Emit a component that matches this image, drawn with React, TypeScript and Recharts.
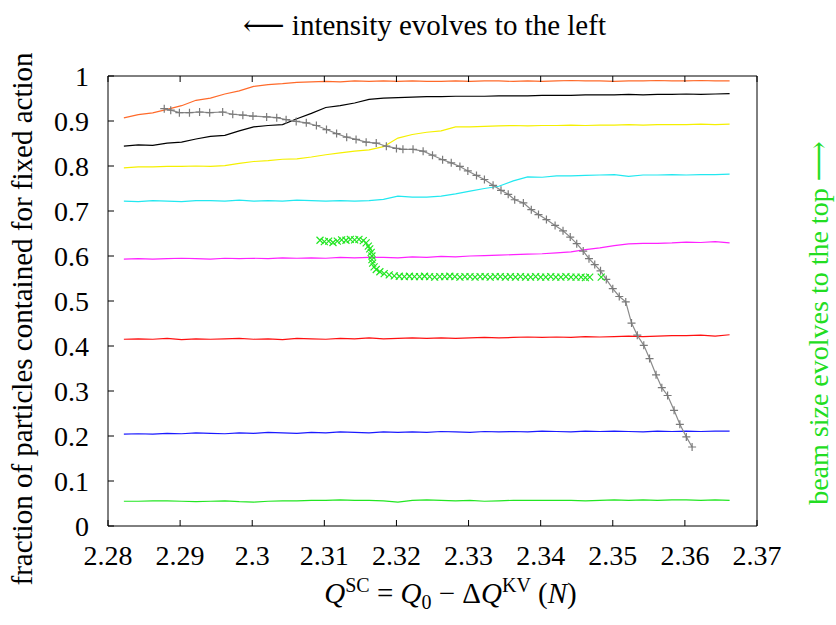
import { Line, LineChart, XAxis, YAxis } from 'recharts';

// Q values shared by the eight thin curves
const lineQ = [
    2.2822, 2.2842, 2.2862, 2.2882, 2.2902, 2.2922, 2.2942, 2.2962, 2.2982, 2.3002,
    2.3022, 2.3042, 2.3062, 2.3082, 2.3102, 2.3122, 2.3142, 2.3162, 2.3182, 2.3202,
    2.3222, 2.3242, 2.3262, 2.3282, 2.3302, 2.3322, 2.3342, 2.3362, 2.3382, 2.3402,
    2.3422, 2.3442, 2.3462, 2.3482, 2.3502, 2.3522, 2.3542, 2.3562, 2.3582, 2.3602,
    2.3622, 2.3642, 2.3662,
];

const orangeFrac = [
    0.907, 0.914, 0.918, 0.926, 0.934, 0.946, 0.951, 0.96, 0.967, 0.977,
    0.981, 0.983, 0.986, 0.987, 0.988, 0.987, 0.989, 0.988, 0.989, 0.988,
    0.989, 0.988, 0.988, 0.989, 0.988, 0.989, 0.989, 0.988, 0.989, 0.988,
    0.989, 0.99, 0.989, 0.989, 0.988, 0.989, 0.989, 0.99, 0.989, 0.989,
    0.99, 0.989, 0.989,
];
const blackFrac = [
    0.844, 0.847, 0.846, 0.851, 0.853, 0.86, 0.866, 0.868, 0.878, 0.887,
    0.89, 0.892, 0.905, 0.917, 0.93, 0.934, 0.94, 0.948, 0.951, 0.952,
    0.953, 0.954, 0.954, 0.955, 0.955, 0.955, 0.956, 0.956, 0.956, 0.957,
    0.957, 0.957, 0.958, 0.958, 0.958, 0.959, 0.958, 0.959, 0.959, 0.96,
    0.959, 0.96, 0.961,
];
const yellowFrac = [
    0.796, 0.798, 0.798, 0.799, 0.799, 0.8, 0.799, 0.801, 0.806, 0.81,
    0.812, 0.815, 0.816, 0.82, 0.825, 0.829, 0.833, 0.836, 0.843, 0.862,
    0.87, 0.875, 0.878, 0.887, 0.887, 0.888, 0.889, 0.89, 0.889, 0.89,
    0.89, 0.891, 0.89, 0.891, 0.891, 0.892, 0.891, 0.892, 0.892, 0.892,
    0.893, 0.892, 0.893,
];
const cyanFrac = [
    0.722, 0.721, 0.723, 0.722, 0.721, 0.723, 0.723, 0.722, 0.724, 0.722,
    0.723, 0.722, 0.724, 0.723, 0.722, 0.723, 0.722, 0.723, 0.726, 0.733,
    0.731, 0.731, 0.733, 0.738, 0.744, 0.75, 0.755, 0.767, 0.776, 0.775,
    0.778, 0.778, 0.779, 0.78, 0.781, 0.777, 0.78, 0.78, 0.781, 0.78,
    0.781, 0.781, 0.782,
];
const magentaFrac = [
    0.593, 0.594, 0.593, 0.594, 0.595, 0.594, 0.593, 0.595, 0.594, 0.595,
    0.594, 0.596, 0.595, 0.596, 0.595, 0.597, 0.596, 0.597, 0.597, 0.596,
    0.598, 0.597, 0.599, 0.598, 0.6, 0.601, 0.602, 0.603, 0.604, 0.605,
    0.607, 0.609, 0.614, 0.618, 0.623, 0.627, 0.628, 0.628, 0.629, 0.631,
    0.63, 0.632, 0.629,
];
const redFrac = [
    0.415, 0.416, 0.415, 0.417, 0.414, 0.416, 0.415, 0.416, 0.417, 0.415,
    0.416, 0.414, 0.417, 0.416, 0.415, 0.417, 0.416, 0.418, 0.416, 0.417,
    0.418, 0.417, 0.418, 0.417, 0.418, 0.419, 0.418, 0.419, 0.42, 0.419,
    0.42, 0.419, 0.421, 0.42, 0.421, 0.422, 0.421, 0.422, 0.423, 0.423,
    0.424, 0.422, 0.425,
];
const blueFrac = [
    0.204, 0.205, 0.204, 0.206, 0.205, 0.207, 0.206, 0.205, 0.207, 0.206,
    0.208, 0.207, 0.206, 0.208, 0.207, 0.209, 0.208, 0.207, 0.209, 0.208,
    0.209, 0.208, 0.21, 0.209, 0.208, 0.21, 0.209, 0.21, 0.209, 0.211,
    0.21, 0.209, 0.211, 0.21, 0.211, 0.21, 0.209, 0.211, 0.21, 0.211,
    0.21, 0.211, 0.211,
];
const greenFrac = [
    0.055, 0.055, 0.056, 0.056, 0.055, 0.054, 0.055, 0.056, 0.054, 0.053,
    0.055, 0.056, 0.056, 0.057, 0.057, 0.058, 0.057, 0.057, 0.056, 0.053,
    0.057, 0.058, 0.057, 0.056, 0.057, 0.055, 0.056, 0.057, 0.057, 0.057,
    0.057, 0.057, 0.056, 0.057, 0.058, 0.057, 0.058, 0.057, 0.058, 0.058,
    0.057, 0.058, 0.057,
];

// gray "+" curve
const grayQ = [
    2.2878, 2.2887, 2.2899, 2.2913, 2.2927, 2.2941, 2.2959, 2.2973, 2.2987, 2.3001,
    2.302, 2.3034, 2.3047, 2.3061, 2.3075, 2.3089, 2.3103, 2.3117, 2.3131, 2.3144,
    2.3158, 2.3172, 2.3186, 2.32, 2.3209, 2.3223, 2.3237, 2.325, 2.3264, 2.3276,
    2.3288, 2.3299, 2.3311, 2.3322, 2.3334, 2.3345, 2.3355, 2.3364, 2.3376, 2.3387,
    2.3397, 2.3408, 2.342, 2.3431, 2.3441, 2.345, 2.3459, 2.3467, 2.3475, 2.3483,
    2.3491, 2.35, 2.3509, 2.3518, 2.3526, 2.3534, 2.3543, 2.3551, 2.356, 2.3568,
    2.3576, 2.3585, 2.3593, 2.3602, 2.361,
];
const grayFrac = [
    0.9275, 0.924, 0.9185, 0.9185, 0.92, 0.9185, 0.92, 0.915, 0.913, 0.911,
    0.909, 0.9075, 0.903, 0.899, 0.896, 0.89, 0.881, 0.872, 0.864, 0.859,
    0.853, 0.851, 0.844, 0.839, 0.837, 0.837, 0.833, 0.824, 0.814, 0.807,
    0.799, 0.789, 0.779, 0.77, 0.757, 0.746, 0.737, 0.725, 0.718, 0.703,
    0.692, 0.681, 0.668, 0.656, 0.642, 0.6275, 0.611, 0.594, 0.581, 0.567,
    0.548, 0.5275, 0.51, 0.498, 0.451, 0.424, 0.4015, 0.372, 0.336, 0.3075,
    0.29, 0.257, 0.226, 0.198, 0.1756,
];

// green "x" points
const crossQ = [
    2.3094, 2.31, 2.3106, 2.3112, 2.3118, 2.3124, 2.313, 2.3136, 2.3142, 2.3148,
    2.3154, 2.3158, 2.3161, 2.3163, 2.3165, 2.3166, 2.3166, 2.3167, 2.3169, 2.3172,
    2.3177, 2.3183, 2.319, 2.3197, 2.3204, 2.3211, 2.3218, 2.3225, 2.3232, 2.3239,
    2.3246, 2.3253, 2.326, 2.3267, 2.3274, 2.3281, 2.3288, 2.3295, 2.3302, 2.3309,
    2.3316, 2.3323, 2.333, 2.3337, 2.3344, 2.3351, 2.3358, 2.3365, 2.3372, 2.3379,
    2.3386, 2.3393, 2.34, 2.3407, 2.3414, 2.3421, 2.3428, 2.3435, 2.3442, 2.3449,
    2.3456, 2.3462, 2.3468, 2.3484,
];
const crossFrac = [
    0.635, 0.632, 0.633, 0.63, 0.633, 0.636, 0.635, 0.637, 0.636, 0.637,
    0.634, 0.629, 0.622, 0.616, 0.608, 0.6, 0.592, 0.584, 0.576, 0.57,
    0.565, 0.561, 0.558, 0.556, 0.555, 0.554, 0.555, 0.554, 0.554, 0.555,
    0.554, 0.553, 0.554, 0.554, 0.555, 0.554, 0.553, 0.554, 0.554, 0.553,
    0.554, 0.554, 0.553, 0.554, 0.554, 0.553, 0.554, 0.553, 0.554, 0.553,
    0.553, 0.554, 0.553, 0.553, 0.554, 0.553, 0.553, 0.554, 0.553, 0.553,
    0.553, 0.552, 0.553, 0.553,
];

const xTicks = [2.28, 2.29, 2.3, 2.31, 2.32, 2.33, 2.34, 2.35, 2.36, 2.37];
const yTicks = [0, 0.1, 0.2, 0.3, 0.4, 0.5, 0.6, 0.7, 0.8, 0.9, 1];

const thinCurves = [
    { name: 'orange', color: '#ff6a2a', values: orangeFrac },
    { name: 'black', color: '#000000', values: blackFrac },
    { name: 'yellow', color: '#f5f000', values: yellowFrac },
    { name: 'cyan', color: '#22e8f0', values: cyanFrac },
    { name: 'magenta', color: '#ff22ff', values: magentaFrac },
    { name: 'red', color: '#ff1010', values: redFrac },
    { name: 'blue', color: '#1a1aff', values: blueFrac },
    { name: 'green', color: '#22e622', values: greenFrac },
];

const toPoints = (qs: number[], vs: number[]) => qs.map((q, i) => ({ q, v: vs[i] }));

const SERIF = { fontFamily: "'Liberation Serif', 'DejaVu Serif', serif" };
const FS = 28;
const TFS = 29;
const TICK = 6; // inward tick length
const GAP_X = 18; // bottom label gap
const GAP_Y = 19; // left label gap

function BottomTick(props: any) {
    const { x, y, payload } = props;
    const axisY = y - GAP_X;
    return (
        <g>
            <line x1={x} x2={x} y1={axisY} y2={axisY - TICK} stroke="#000" />
            <text x={x} y={y} dy="0.75em" textAnchor="middle" style={SERIF} fontSize={FS} fill="#000">
                {String(Number(payload.value.toFixed(2)))}
            </text>
        </g>
    );
}

function LeftTick(props: any) {
    const { x, y, payload } = props;
    const axisX = x + GAP_Y;
    return (
        <g>
            <line x1={axisX} x2={axisX + TICK} y1={y} y2={y} stroke="#000" />
            <text x={x} y={y} dy="0.35em" textAnchor="end" style={SERIF} fontSize={FS} fill="#000">
                {String(Number(payload.value.toFixed(1)))}
            </text>
        </g>
    );
}

function TopTick(props: any) {
    const { x, y } = props;
    return <line x1={x} x2={x} y1={y} y2={y + TICK} stroke="#000" />;
}

function RightTick(props: any) {
    const { x, y } = props;
    return <line x1={x} x2={x - TICK} y1={y} y2={y} stroke="#000" />;
}

function PlusDot(props: any) {
    const { cx, cy } = props;
    if (cx == null || cy == null) return null;
    const s = 4;
    return (
        <path
            d={`M${cx - s},${cy}H${cx + s}M${cx},${cy - s}V${cy + s}`}
            stroke="#7a7a7a"
            strokeWidth={1.2}
            fill="none"
        />
    );
}

function CrossDot(props: any) {
    const { cx, cy } = props;
    if (cx == null || cy == null) return null;
    const s = 3.5;
    return (
        <path
            d={`M${cx - s},${cy - s}L${cx + s},${cy + s}M${cx - s},${cy + s}L${cx + s},${cy - s}`}
            stroke="#22e622"
            strokeWidth={1.2}
            fill="none"
        />
    );
}

function TitleLabel(props: any) {
    const vb = props.viewBox || { x: 108, y: 75, width: 649 };
    return (
        <text x={vb.x + vb.width / 2 - 8} y={vb.y - 40} textAnchor="middle" style={SERIF} fontSize={TFS} fill="#000">
            ⟵ intensity evolves to the left
        </text>
    );
}

function XTitle(props: any) {
    const vb = props.viewBox || { x: 108, y: 526, width: 649 };
    const small = 20;
    return (
        <text x={vb.x + vb.width / 2 + 18} y={vb.y + 77} textAnchor="middle" style={SERIF} fontSize={TFS} fill="#000">
            <tspan fontStyle="italic">Q</tspan>
            <tspan fontSize={small} dy={-11}>SC</tspan>
            <tspan dy={11}> = </tspan>
            <tspan fontStyle="italic">Q</tspan>
            <tspan fontSize={small} dy={6}>0</tspan>
            <tspan dy={-6}> − Δ</tspan>
            <tspan fontStyle="italic">Q</tspan>
            <tspan fontSize={small} dy={-11}>KV</tspan>
            <tspan dy={11}> (</tspan>
            <tspan fontStyle="italic">N</tspan>
            <tspan>)</tspan>
        </text>
    );
}

function YTitle(props: any) {
    const vb = props.viewBox || { x: 58, y: 76, height: 450 };
    const cx = vb.x - 36;
    const cy = vb.y + vb.height / 2 + 18;
    return (
        <text
            x={cx}
            y={cy}
            transform={`rotate(-90 ${cx} ${cy})`}
            textAnchor="middle"
            dominantBaseline="central"
            style={SERIF}
            fontSize={TFS}
            fill="#000"
        >
            fraction of particles contained for fixed action
        </text>
    );
}

function RightTitle(props: any) {
    const vb = props.viewBox || { x: 757, y: 76, height: 450 };
    const cx = vb.x + 61;
    const cy = vb.y + vb.height / 2 + 22;
    return (
        <text
            x={cx}
            y={cy}
            transform={`rotate(-90 ${cx} ${cy})`}
            textAnchor="middle"
            dominantBaseline="central"
            style={SERIF}
            fontSize={28}
            fill="#22dd22"
        >
            beam size evolves to the top ⟶
        </text>
    );
}

export default function App() {
    return (
        <div style={{ position: 'absolute', left: 0, top: 0, background: '#fff' }}>
            <LineChart width={836} height={625} margin={{ top: 75, right: 78, bottom: 69, left: 58 }}>
                <XAxis
                    xAxisId="bottom"
                    dataKey="q"
                    type="number"
                    domain={[2.28, 2.37]}
                    ticks={xTicks}
                    allowDataOverflow
                    tick={<BottomTick />}
                    tickLine={false}
                    tickSize={0}
                    tickMargin={GAP_X}
                    height={30}
                    stroke="#000"
                    interval={0}
                    label={<XTitle />}
                />
                <XAxis
                    xAxisId="top"
                    orientation="top"
                    dataKey="q"
                    type="number"
                    domain={[2.28, 2.37]}
                    ticks={xTicks}
                    allowDataOverflow
                    tick={<TopTick />}
                    tickLine={false}
                    tickSize={0}
                    tickMargin={0}
                    height={1}
                    stroke="#000"
                    interval={0}
                    label={<TitleLabel />}
                />
                <YAxis
                    yAxisId="left"
                    type="number"
                    domain={[0, 1]}
                    ticks={yTicks}
                    tick={<LeftTick />}
                    tickLine={false}
                    tickSize={0}
                    tickMargin={GAP_Y}
                    width={50}
                    stroke="#000"
                    interval={0}
                    label={<YTitle />}
                />
                <YAxis
                    yAxisId="right"
                    orientation="right"
                    type="number"
                    domain={[0, 1]}
                    ticks={yTicks}
                    tick={<RightTick />}
                    tickLine={false}
                    tickSize={0}
                    tickMargin={0}
                    width={1}
                    stroke="#000"
                    interval={0}
                    label={<RightTitle />}
                />
                {thinCurves.map((c) => (
                    <Line
                        key={c.name}
                        xAxisId="bottom"
                        yAxisId="left"
                        data={toPoints(lineQ, c.values)}
                        dataKey="v"
                        type="linear"
                        stroke={c.color}
                        strokeWidth={1.2}
                        dot={false}
                        isAnimationActive={false}
                    />
                ))}
                <Line
                    xAxisId="bottom"
                    yAxisId="left"
                    data={toPoints(grayQ, grayFrac)}
                    dataKey="v"
                    type="linear"
                    stroke="#8a8a8a"
                    strokeWidth={1.2}
                    dot={<PlusDot />}
                    isAnimationActive={false}
                />
                <Line
                    xAxisId="bottom"
                    yAxisId="left"
                    data={toPoints(crossQ, crossFrac)}
                    dataKey="v"
                    type="linear"
                    stroke="none"
                    strokeWidth={0}
                    dot={<CrossDot />}
                    isAnimationActive={false}
                />
            </LineChart>
        </div>
    );
}
